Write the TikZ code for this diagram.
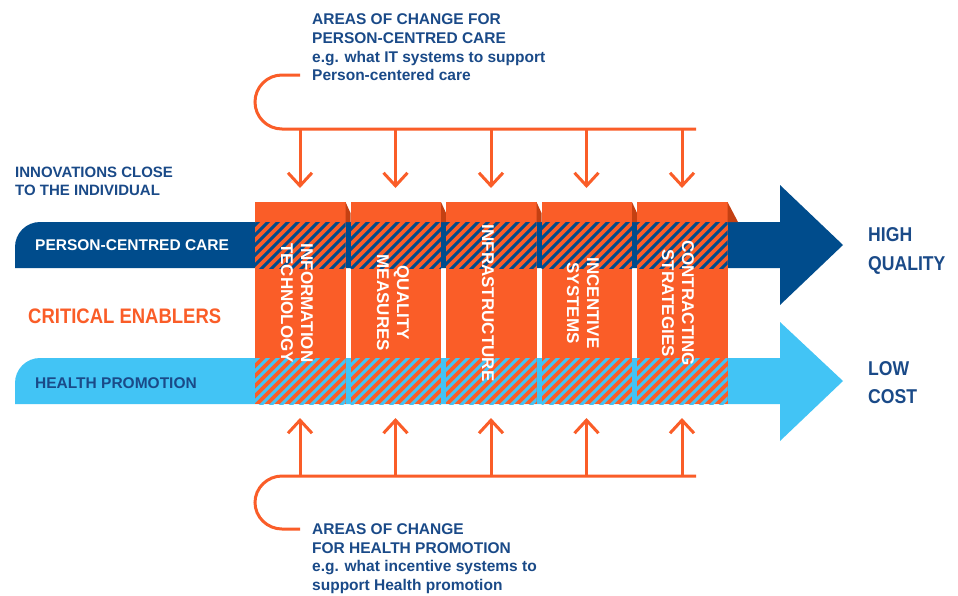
\documentclass[tikz,border=0pt]{standalone}
\usepackage{fontspec}
\setmainfont{Liberation Sans}
\newfontfamily\condfont[FakeStretch=0.88]{Liberation Sans}
\usetikzlibrary{arrows.meta}
\definecolor{orng}{RGB}{250,93,40}
\definecolor{orngdark}{RGB}{196,64,18}
\definecolor{dblue}{RGB}{0,76,140}
\definecolor{lblue}{RGB}{66,196,245}
\definecolor{tblue}{RGB}{26,74,136}
\newcommand{\fsz}[1]{\fontsize{#1}{#1}\selectfont}
\tikzset{
  txt/.style={inner sep=0pt, anchor=base west, text=tblue, font=\fsz{15.5}\bfseries},
  bandtxt/.style={inner sep=0pt, anchor=base west, font=\fsz{15.5}\bfseries},
  outtxt/.style={inner sep=0pt, anchor=base west, text=tblue, font=\condfont\fsz{20}\bfseries},
  blocktxt/.style={inner sep=0pt, rotate=-90, align=center, text=white, font=\fontsize{17}{20}\selectfont\bfseries},
  bracket/.style={draw=orng, line width=3pt},
  orarrow/.style={draw=orng, line width=3pt, -{Straight Barb[length=13pt,width=24pt,line width=3pt]}},
  hatchd/.style={draw=dblue, line width=3pt},
  hatchl/.style={draw=lblue, line width=3pt}
}
\begin{document}
\begin{tikzpicture}[x=1pt,y=-1pt]
\useasboundingbox[fill=white] (0,0) rectangle (958,595);

% bands (shafts) and arrow heads
\fill[dblue] (15,268) -- (15,247) .. controls (15,233.2) and (26.2,222) .. (40,222) -- (781,222) -- (781,268) -- cycle;
\fill[dblue] (780,185) -- (843,245) -- (780,305) -- cycle;
\fill[lblue] (15,404) -- (15,383) .. controls (15,369.2) and (26.2,358) .. (40,358) -- (781,358) -- (781,404) -- cycle;
\fill[lblue] (780,322) -- (843,381) -- (780,441) -- cycle;

% blocks
\foreach \x in {255,350.5,446,541.5} {
  \fill[orng] (\x,202) rectangle ++(90.5,202);
  \fill[orngdark] (\x+90.5,202) -- (\x+95.5,213) -- (\x+95.5,222) -- (\x+90.5,222) -- cycle;
}
\fill[orng] (637,202) rectangle ++(90.5,202);
\fill[orngdark] (727.5,202) -- (738,222) -- (727.5,222) -- cycle;

% hatching
\foreach \x in {255,350.5,446,541.5,637} {
  \begin{scope}
    \clip (\x,222) rectangle ++(90.5,46);
    \foreach \k in {0,...,60} \draw[hatchd] (200+10*\k,270) -- ++(52,-52);
  \end{scope}
  \begin{scope}
    \clip (\x,358) rectangle ++(90.5,46);
    \foreach \k in {0,...,60} \draw[hatchl] (200+10*\k,406) -- ++(52,-52);
  \end{scope}
}

% block labels
\node[blocktxt] (b1) at (297,303) {INFORMATION\\TECHNOLOGY};
\node[blocktxt] (b2) at (393,303) {QUALITY\\MEASURES};
\node[blocktxt] (b3) at (488,303) {INFRASTRUCTURE};
\node[blocktxt] (b4) at (583,303) {INCENTIVE\\SYSTEMS};
\node[blocktxt] (b5) at (678,303) {CONTRACTING\\STRATEGIES};

% brackets
\draw[bracket] (300,75) -- (282,75) .. controls (267.1,75) and (255,87.1) .. (255,102) .. controls (255,116.9) and (267.1,129) .. (282,129) -- (696,129);
\draw[bracket] (696,476) -- (282,476) .. controls (267.4,476) and (255,487.9) .. (255,502.5) .. controls (255,517.1) and (267.4,529) .. (282,529) -- (300,529);

% arrows
\foreach \x [count=\i] in {300,395.5,491,586.5,682} {
  \coordinate (ts\i) at (\x,129);
  \coordinate (te\i) at (\x,188);
  \coordinate (bs\i) at (\x,476);
  \coordinate (be\i) at (\x,418);
  \draw[orarrow] (ts\i) -- (te\i);
  \draw[orarrow] (bs\i) -- (be\i);
}

% texts
\node[txt] (t1) at (312,24) {AREAS OF CHANGE FOR};
\node[txt] (t2) at (312,43) {PERSON-CENTRED CARE};
\node[txt] (t3) at (312,62) {e.g. what IT systems to support};
\node[txt] (t4) at (312,80) {Person-centered care};

\node[txt] (u1) at (312,534) {AREAS OF CHANGE};
\node[txt] (u2) at (312,553) {FOR HEALTH PROMOTION};
\node[txt] (u3) at (312,571) {e.g. what incentive systems to};
\node[txt] (u4) at (312,590) {support Health promotion};

\node[txt, font=\fsz{15}\bfseries] (i1) at (15,177) {INNOVATIONS CLOSE};
\node[txt, font=\fsz{15}\bfseries] (i2) at (15,195.5) {TO THE INDIVIDUAL};

\node[bandtxt, text=white] (pcc) at (35,250) {PERSON-CENTRED CARE};
\node[bandtxt, text=tblue] (hp) at (35,388) {HEALTH PROMOTION};

\node[outtxt, text=orng, font=\condfont\fsz{21}\bfseries] (ce) at (28,323) {CRITICAL ENABLERS};

\node[outtxt] (hq1) at (868,241) {HIGH};
\node[outtxt] (hq2) at (868,270) {QUALITY};
\node[outtxt] (lc1) at (868,375) {LOW};
\node[outtxt] (lc2) at (868,403) {COST};
\end{tikzpicture}
\end{document}
